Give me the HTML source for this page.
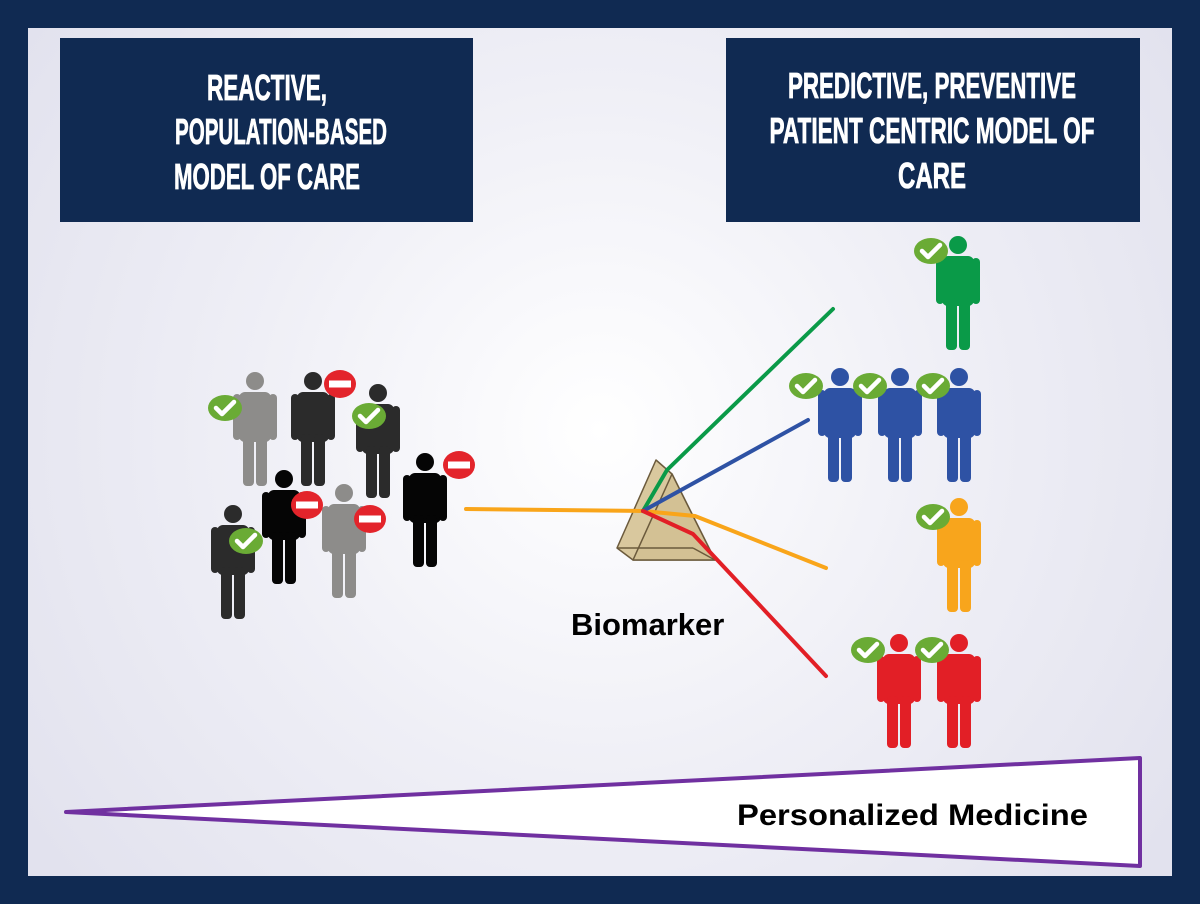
<!DOCTYPE html>
<html><head><meta charset="utf-8"><style>
html,body{margin:0;padding:0;width:1200px;height:904px;overflow:hidden;background:#102a52}
</style></head><body>
<svg width="1200" height="904" viewBox="0 0 1200 904" xmlns="http://www.w3.org/2000/svg">
<defs>
<radialGradient id="bg" cx="600" cy="430" r="700" gradientUnits="userSpaceOnUse">
<stop offset="0" stop-color="#ffffff"/><stop offset="0.5" stop-color="#efeff6"/><stop offset="1" stop-color="#e2e2ee"/>
</radialGradient>
<g id="p">
<circle cx="22" cy="9" r="9"/>
<rect x="6" y="20" width="32" height="50" rx="6"/>
<rect x="0" y="22" width="8" height="46" rx="4"/>
<rect x="36" y="22" width="8" height="46" rx="4"/>
<rect x="10" y="62" width="11" height="52" rx="4"/>
<rect x="23" y="62" width="11" height="52" rx="4"/>
</g>
<g id="ok">
<ellipse cx="0" cy="0" rx="17" ry="13" fill="#6aab35"/>
<path d="M-9,0 L-3,6 L9,-6" stroke="#fff" stroke-width="4.5" fill="none" stroke-linecap="round" stroke-linejoin="round"/>
</g>
<g id="no">
<ellipse cx="0" cy="0" rx="16" ry="14" fill="#e3242b"/>
<rect x="-11" y="-3.5" width="22" height="7" fill="#fff"/>
</g>
</defs>
<rect x="28" y="28" width="1144" height="848" fill="url(#bg)"/>
<rect x="60" y="38" width="413" height="184" fill="#102a52"/>
<rect x="726" y="38" width="414" height="184" fill="#102a52"/>
<g font-family="'Liberation Sans Narrow','Liberation Sans',sans-serif" font-weight="bold" font-size="36" fill="#fff" stroke="#fff" stroke-width="0.8" text-anchor="middle">
<text x="267" y="100" textLength="120" lengthAdjust="spacingAndGlyphs">REACTIVE,</text>
<text x="281" y="144" textLength="212" lengthAdjust="spacingAndGlyphs">POPULATION-BASED</text>
<text x="267" y="189" textLength="186" lengthAdjust="spacingAndGlyphs">MODEL OF CARE</text>
<text x="932" y="98" textLength="288" lengthAdjust="spacingAndGlyphs">PREDICTIVE, PREVENTIVE</text>
<text x="932" y="143" textLength="325" lengthAdjust="spacingAndGlyphs">PATIENT CENTRIC MODEL OF</text>
<text x="932" y="188" textLength="68" lengthAdjust="spacingAndGlyphs">CARE</text>
</g>
<use href="#p" x="233" y="372" fill="#8d8c8a"/>
<use href="#p" x="291" y="372" fill="#2b2b2b"/>
<use href="#p" x="356" y="384" fill="#2b2b2b"/>
<use href="#p" x="403" y="453" fill="#050505"/>
<use href="#p" x="262" y="470" fill="#050505"/>
<use href="#p" x="322" y="484" fill="#8d8c8a"/>
<use href="#p" x="211" y="505" fill="#2b2b2b"/>
<use href="#ok" x="225" y="408"/>
<use href="#ok" x="369" y="416"/>
<use href="#ok" x="246" y="541"/>
<use href="#no" x="340" y="384"/>
<use href="#no" x="459" y="465"/>
<use href="#no" x="307" y="505"/>
<use href="#no" x="370" y="519"/>
<use href="#p" x="936" y="236" fill="#0a9a48"/>
<use href="#p" x="818" y="368" fill="#2e52a4"/>
<use href="#p" x="878" y="368" fill="#2e52a4"/>
<use href="#p" x="937" y="368" fill="#2e52a4"/>
<use href="#p" x="937" y="498" fill="#f8a51c"/>
<use href="#p" x="877" y="634" fill="#e21f26"/>
<use href="#p" x="937" y="634" fill="#e21f26"/>
<use href="#ok" x="931" y="251"/>
<use href="#ok" x="806" y="386"/>
<use href="#ok" x="870" y="386"/>
<use href="#ok" x="933" y="386"/>
<use href="#ok" x="933" y="517"/>
<use href="#ok" x="868" y="650"/>
<use href="#ok" x="932" y="650"/>
<g stroke="#6b5a3c" stroke-width="1.5" fill="#d9c89e" stroke-linejoin="round">
<polygon points="656,460 617,548 633,560 715,560 672,474"/>
<polygon points="672,474 633,560 715,560" fill="#d3c194"/>
<line x1="617" y1="548" x2="693" y2="548"/>
<line x1="693" y1="548" x2="715" y2="560"/>
</g>
<g fill="none" stroke-width="4" stroke-linecap="round" stroke-linejoin="round">
<polyline points="466,509 643,511 695,516 826,568" stroke="#f9a51a"/>
<polyline points="643,511 667,470 833,309" stroke="#0a9a48"/>
<polyline points="643,511 808,420" stroke="#2e52a4"/>
<polyline points="643,511 693,534 826,676" stroke="#e21f26"/>
</g>
<text x="571" y="635" font-family="'Liberation Sans',sans-serif" font-weight="bold" font-size="31" fill="#000">Biomarker</text>
<polygon points="66,812 1140,758 1140,866" fill="#fff" stroke="#7030a0" stroke-width="4" stroke-linejoin="round"/>
<text x="737" y="825" font-family="'Liberation Sans',sans-serif" font-weight="bold" font-size="30" fill="#000" textLength="351" lengthAdjust="spacingAndGlyphs">Personalized Medicine</text>
</svg>
</body></html>
